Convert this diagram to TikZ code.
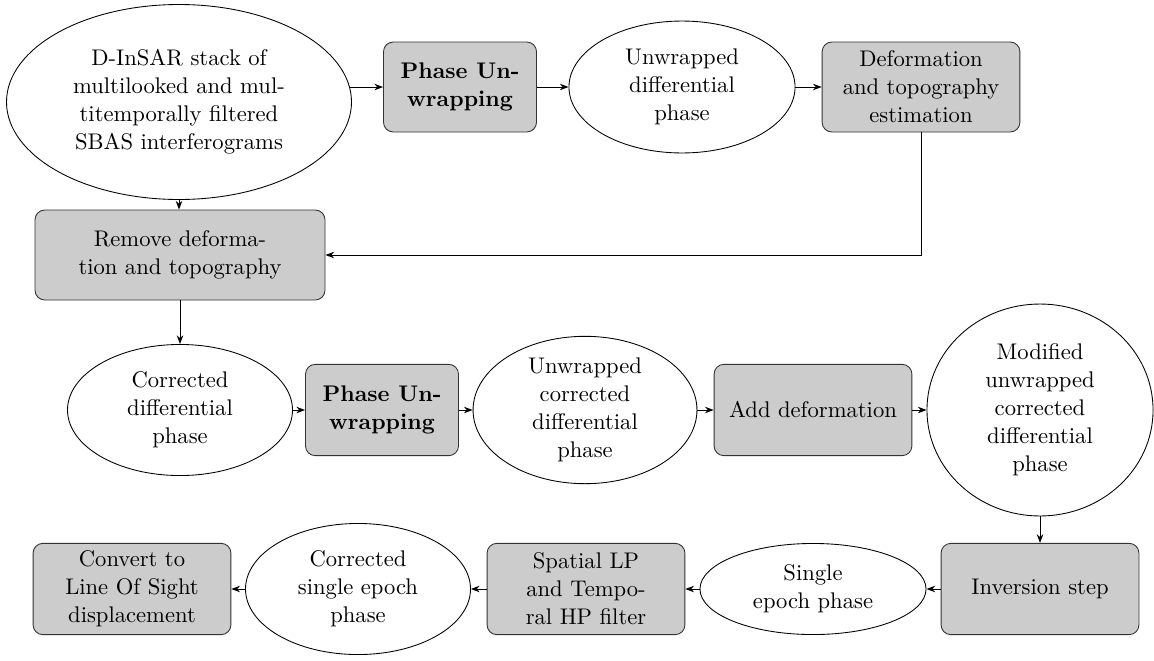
\documentclass[tikz,border=0pt]{standalone}
\usetikzlibrary{shapes.geometric,arrows.meta}
\begin{document}
\begin{tikzpicture}[x=0.46pt,y=-0.46pt,
  every node/.style={font=\fontsize{10.4}{12.9}\selectfont},
  procbox/.style={draw=black!80, fill=black!20, rounded corners=4.5pt, align=center, inner sep=1pt, minimum width=91pt, minimum height=42pt},
  databub/.style={draw, ellipse, fill=white, align=center, inner sep=0pt},
  conn/.style={-{Stealth[length=4pt,width=3pt]}, line width=0.45pt}]
\useasboundingbox (0,0) rectangle (1154,660);
% row 1
\node[databub, minimum width=158.7pt, minimum height=89.7pt] (e1) at (179,102)
  {D-InSAR stack of\\multilooked and mul-\\titemporally filtered\\SBAS interferograms};
\node[procbox, minimum width=70.4pt, minimum height=41.4pt] (pu1) at (460,87)
  {\bfseries Phase Un-\\\bfseries wrapping};
\node[databub, minimum width=104pt, minimum height=60.7pt] (e2) at (682,87)
  {Unwrapped\\differential\\phase};
\node[procbox, minimum height=41.4pt] (def) at (921,87)
  {Deformation\\and topography\\estimation};
% row 2
\node[procbox, minimum width=133.4pt, minimum height=41.4pt] (rem) at (180,255)
  {Remove deforma-\\tion and topography};
% row 3
\node[databub, minimum width=103.5pt, minimum height=60.3pt] (corr) at (180,410)
  {Corrected\\differential\\phase};
\node[procbox, minimum width=70.4pt] (pu2) at (382,410)
  {\bfseries Phase Un-\\\bfseries wrapping};
\node[databub, minimum width=103pt, minimum height=62.6pt] (uc) at (585,410)
  {Unwrapped\\corrected\\differential\\phase};
\node[procbox] (add) at (813,410) {Add deformation};
\node[databub, minimum width=104pt, minimum height=97.5pt] (mod) at (1040,410)
  {Modified\\unwrapped\\corrected\\differential\\phase};
% row 4
\node[procbox] (inv) at (1040,589) {Inversion step};
\node[databub, minimum width=104pt, minimum height=41.9pt] (sep) at (813,589)
  {Single\\epoch phase};
\node[procbox] (slp) at (586,589) {Spatial LP\\and Tempo-\\ral HP filter};
\node[databub, minimum width=103.5pt, minimum height=60.3pt] (cse) at (358,589)
  {Corrected\\single epoch\\phase};
\node[procbox] (conv) at (132,589) {Convert to\\Line Of Sight\\displacement};
% connectors
\draw[conn] (e1.5) -- (e1.5 -| pu1.west);
\draw[conn] (pu1) -- (e2);
\draw[conn] (e2) -- (def);
\draw[conn] (e1.south) -- (e1.south |- rem.north);
\draw[conn] (def.south) |- (rem.east);
\draw[conn] (rem) -- (corr);
\draw[conn] (corr) -- (pu2);
\draw[conn] (pu2) -- (uc);
\draw[conn] (uc) -- (add);
\draw[conn] (add) -- (mod);
\draw[conn] (mod) -- (inv);
\draw[conn] (inv) -- (sep);
\draw[conn] (sep) -- (slp);
\draw[conn] (slp) -- (cse);
\draw[conn] (cse) -- (conv);
\end{tikzpicture}
\end{document}
